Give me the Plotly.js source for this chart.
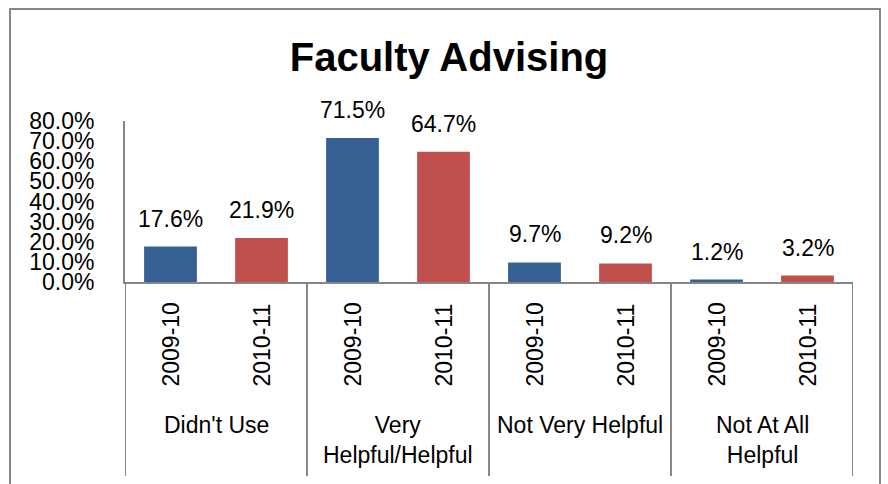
<!DOCTYPE html>
<html>
<head>
<meta charset="utf-8">
<script src="https://cdn.plot.ly/plotly-3.0.1.min.js"></script>
<style>html,body{margin:0;padding:0;background:#fff;}#chart{width:888px;height:484px;}</style>
</head>
<body>
<div id="chart"></div>
<script>
var groups = ["Didn't Use", "Very Helpful/Helpful", "Not Very Helpful", "Not At All Helpful"];
var groupLabels = ["Didn't Use", "Very<br>Helpful/Helpful", "Not Very Helpful", "Not At All<br>Helpful"];
var years = ["2009-10", "2010-11"];
var values2009 = [0.176, 0.715, 0.097, 0.012];
var values2010 = [0.219, 0.647, 0.092, 0.032];
var yTicks = [0, 0.1, 0.2, 0.3, 0.4, 0.5, 0.6, 0.7, 0.8];

var FONT = "'Liberation Sans', Arial, sans-serif";
var GRAY = '#868686';
var W = 888, H = 484;
function px(x){ return x / W; }
function py(y){ return 1 - y / H; }

var series = [values2009, values2010];
var colors = ['#376092', '#C0504D'];
var offsets = [-0.25, 0.25];

var traces = series.map(function(vals, k){
  return {
    type: 'bar',
    name: years[k],
    x: groups,
    y: vals,
    marker: {color: colors[k]},
    hoverinfo: 'skip'
  };
});

var annotations = [];
var shapes = [];

// data labels
series.forEach(function(vals, k){
  vals.forEach(function(v, i){
    annotations.push({
      xref: 'x', yref: 'y', x: i + offsets[k], y: v,
      text: (v * 100).toFixed(1) + '%', showarrow: false,
      yanchor: 'middle', yshift: 28,
      font: {family: FONT, size: 23, color: '#000'}
    });
  });
});

// year labels (rotated)
groups.forEach(function(g, i){
  years.forEach(function(yr, k){
    annotations.push({
      xref: 'x', yref: 'paper', x: i + offsets[k], y: py(345),
      text: yr, textangle: -90, showarrow: false,
      xanchor: 'center', yanchor: 'middle',
      font: {family: FONT, size: 23, color: '#000'}
    });
  });
  annotations.push({
    xref: 'x', yref: 'paper', x: i, y: py(410),
    text: groupLabels[i], showarrow: false,
    xanchor: 'center', yanchor: 'top',
    font: {family: FONT, size: 23, color: '#000'}
  });
});

// group dividers
for (var d = 0; d <= groups.length; d++) {
  shapes.push({
    type: 'line', xref: 'x', yref: 'paper',
    x0: d - 0.5, x1: d - 0.5, y0: py(282), y1: py(476),
    line: {color: GRAY, width: 2}
  });
}

// outer chart border
shapes.push({
  type: 'rect', xref: 'paper', yref: 'paper',
  x0: px(10), x1: px(880), y0: py(500), y1: py(9),
  line: {color: GRAY, width: 2}, fillcolor: 'rgba(0,0,0,0)'
});

var layout = {
  width: W, height: H,
  margin: {l: 0, r: 0, t: 0, b: 0, pad: 0},
  paper_bgcolor: '#fff', plot_bgcolor: '#fff',
  showlegend: false,
  barmode: 'group', bargap: 0, bargroupgap: 0.42,
  title: {
    text: '<b>Faculty Advising</b>',
    x: px(449), xanchor: 'center', xref: 'paper',
    y: py(57), yanchor: 'middle', yref: 'paper',
    font: {family: FONT, size: 40, color: '#000'}
  },
  xaxis: {
    domain: [px(125), px(853)],
    type: 'category',
    range: [-0.5, 3.5],
    showticklabels: false, ticks: '',
    showgrid: false, zeroline: false,
    showline: true, linecolor: GRAY, linewidth: 2,
    automargin: false, fixedrange: true
  },
  yaxis: {
    domain: [py(282), py(121)],
    range: [0, 0.8],
    tickvals: yTicks,
    tickformat: '.1%',
    ticks: '', ticklabelstandoff: 24,
    showgrid: false, zeroline: false,
    showline: true, linecolor: GRAY, linewidth: 2,
    tickfont: {family: FONT, size: 23, color: '#000'},
    automargin: false, fixedrange: true
  },
  annotations: annotations,
  shapes: shapes
};

Plotly.newPlot('chart', traces, layout, {displayModeBar: false, staticPlot: true});
</script>
</body>
</html>
